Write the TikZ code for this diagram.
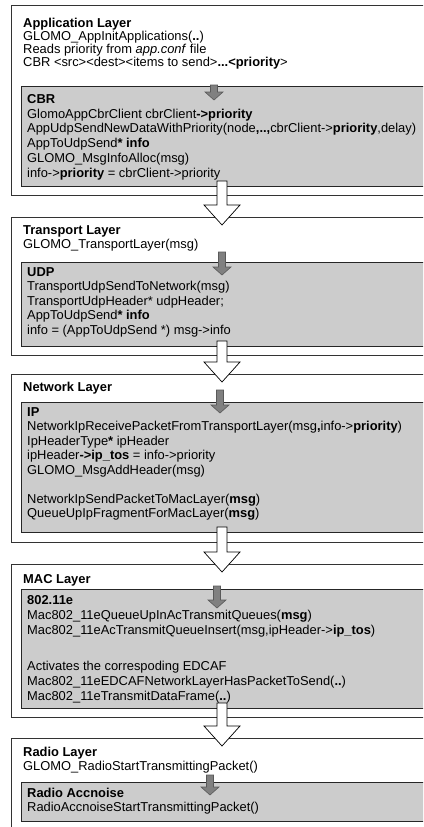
\documentclass[tikz,border=0pt]{standalone}
\usepackage{fontspec}
\setmainfont{Liberation Sans}
\usetikzlibrary{calc}
\tikzset{
  layerbox/.style={draw=black!80, line width=0.9pt, fill=white, rectangle,
    inner sep=0pt, outer sep=0pt, anchor=north west, minimum width=440pt},
  modbox/.style={draw=black!85, line width=0.8pt, fill=black!20, rectangle,
    inner sep=0pt, outer sep=0pt, anchor=north west, minimum width=430pt},
  txt/.style={anchor=north west, inner sep=0pt, align=left,
    font=\fontsize{12.9}{14.5}\selectfont},
  openarrow/.style={draw=black, line width=0.7pt, fill=white, line join=miter},
  darkarrow/.style={draw=black!65, line width=0.6pt, fill=black!50, line join=miter}
}
% hollow arrow from the bottom of one module box to the top of the next layer
\newcommand\openarrow[3]{%
  \draw[openarrow] let \p1=(#2.south), \p2=(#3.north) in
    (#1pt-5pt,\y1+5pt) -- (#1pt+5pt,\y1+5pt) -- (#1pt+5pt,\y2+12pt)
    -- (#1pt+18pt,\y2+12pt) -- (#1pt,\y2-8pt) -- (#1pt-18pt,\y2+12pt)
    -- (#1pt-5pt,\y2+12pt) -- cycle;}
% small filled arrow entering a module box: x, box, start above top, tip below top
\newcommand\darkarrow[4]{%
  \draw[darkarrow] let \p1=(#2.north) in
    (#1pt-3.5pt,\y1+#3pt) -- (#1pt+3.5pt,\y1+#3pt) -- (#1pt+3.5pt,\y1-#4pt+8pt)
    -- (#1pt+9pt,\y1-#4pt+8pt) -- (#1pt,\y1-#4pt) -- (#1pt-9pt,\y1-#4pt+8pt)
    -- (#1pt-3.5pt,\y1-#4pt+8pt) -- cycle;}
\begin{document}
\begin{tikzpicture}[x=1pt,y=-1pt]
\useasboundingbox (0,0) rectangle (423,827);
\clip (0,0) rectangle (423,827);

% layer frames
\node[layerbox, minimum height=190pt] (app) at (11,5) {};
\node[layerbox, minimum height=138pt] (tra) at (11,217) {};
\node[layerbox, minimum height=168pt] (net) at (11,374) {};
\node[layerbox, minimum height=153pt] (mac) at (11,564) {};
\node[layerbox, minimum height=120pt] (rad) at (11,738) {};

% module boxes
\node[modbox, minimum height=100pt] (cbr) at (21,86) {};
\node[modbox, minimum height=84pt] (udp) at (21,262) {};
\node[modbox, minimum height=130pt] (ip) at (21,402) {};
\node[modbox, minimum height=119pt] (dot11e) at (21,589) {};
\node[modbox, minimum height=39pt] (acc) at (21,782) {};

% application layer
\node[txt, font=\fontsize{12.9}{12}\selectfont] (appT) at (23,18) {\textbf{Application Layer}\\
GLOMO\_AppInitApplications(\textbf{..})\\
Reads priority from \textit{app.conf} file\\
CBR <src><dest><items to send>\textbf{...<priority}>};
\node[txt, font=\fontsize{12.9}{14.8}\selectfont] (cbrT) at (27,94) {\textbf{CBR}\\
GlomoAppCbrClient cbrClient\textbf{->priority}\\
AppUdpSendNewDataWithPriority(node\textbf{,..,}cbrClient->\textbf{priority},delay)\\
AppToUdpSend\textbf{* info}\\
GLOMO\_MsgInfoAlloc(msg)\\
info->\textbf{priority} = cbrClient->priority};

% transport layer
\node[txt] (traT) at (23,225) {\textbf{Transport Layer}\\
GLOMO\_TransportLayer(msg)};
\node[txt] (udpT) at (27,267) {\textbf{UDP}\\
TransportUdpSendToNetwork(msg)\\
TransportUdpHeader* udpHeader;\\
AppToUdpSend\textbf{* info}\\
info = (AppToUdpSend *) msg->info};

% network layer
\node[txt] (netT) at (23,382) {\textbf{Network Layer}};
\node[txt] (ipT) at (27,407) {\textbf{IP}\\
NetworkIpReceivePacketFromTransportLayer(msg\textbf{,}info->\textbf{priority})\\
IpHeaderType\textbf{*} ipHeader\\
ipHeader\textbf{->ip\_tos} = info->priority\\
GLOMO\_MsgAddHeader(msg)\\[14.5pt]
NetworkIpSendPacketToMacLayer(\textbf{msg})\\
QueueUpIpFragmentForMacLayer(\textbf{msg})};

% MAC layer
\node[txt] (macT) at (23,574) {\textbf{MAC Layer}};
\node[txt, font=\fontsize{12.9}{15}\selectfont] (dotT) at (27,595) {\textbf{802.11e}\\
Mac802\_11eQueueUpInAcTransmitQueues(\textbf{msg})\\
Mac802\_11eAcTransmitQueueInsert(msg,ipHeader->\textbf{ip\_tos})\\[21pt]
Activates the correspoding EDCAF\\
Mac802\_11eEDCAFNetworkLayerHasPacketToSend(\textbf{..})\\
Mac802\_11eTransmitDataFrame(\textbf{..})};

% radio layer
\node[txt, font=\fontsize{12.9}{13.5}\selectfont] (radT) at (23,747) {\textbf{Radio Layer}\\
GLOMO\_RadioStartTransmittingPacket()};
\node[txt, font=\fontsize{12.9}{13.5}\selectfont] (accT) at (27,788) {\textbf{Radio Accnoise}\\
RadioAccnoiseStartTransmittingPacket()};

% flow between layers
\openarrow{222}{cbr}{tra}
\openarrow{222}{udp}{net}
\openarrow{222}{ip}{mac}
\openarrow{222}{dot11e}{rad}

% flow into each module
\darkarrow{214}{cbr}{1}{14}
\darkarrow{222}{udp}{10}{13}
\darkarrow{220}{ip}{12}{11}
\darkarrow{217}{dot11e}{3}{19}
\darkarrow{210}{acc}{7}{13}
\end{tikzpicture}
\end{document}
